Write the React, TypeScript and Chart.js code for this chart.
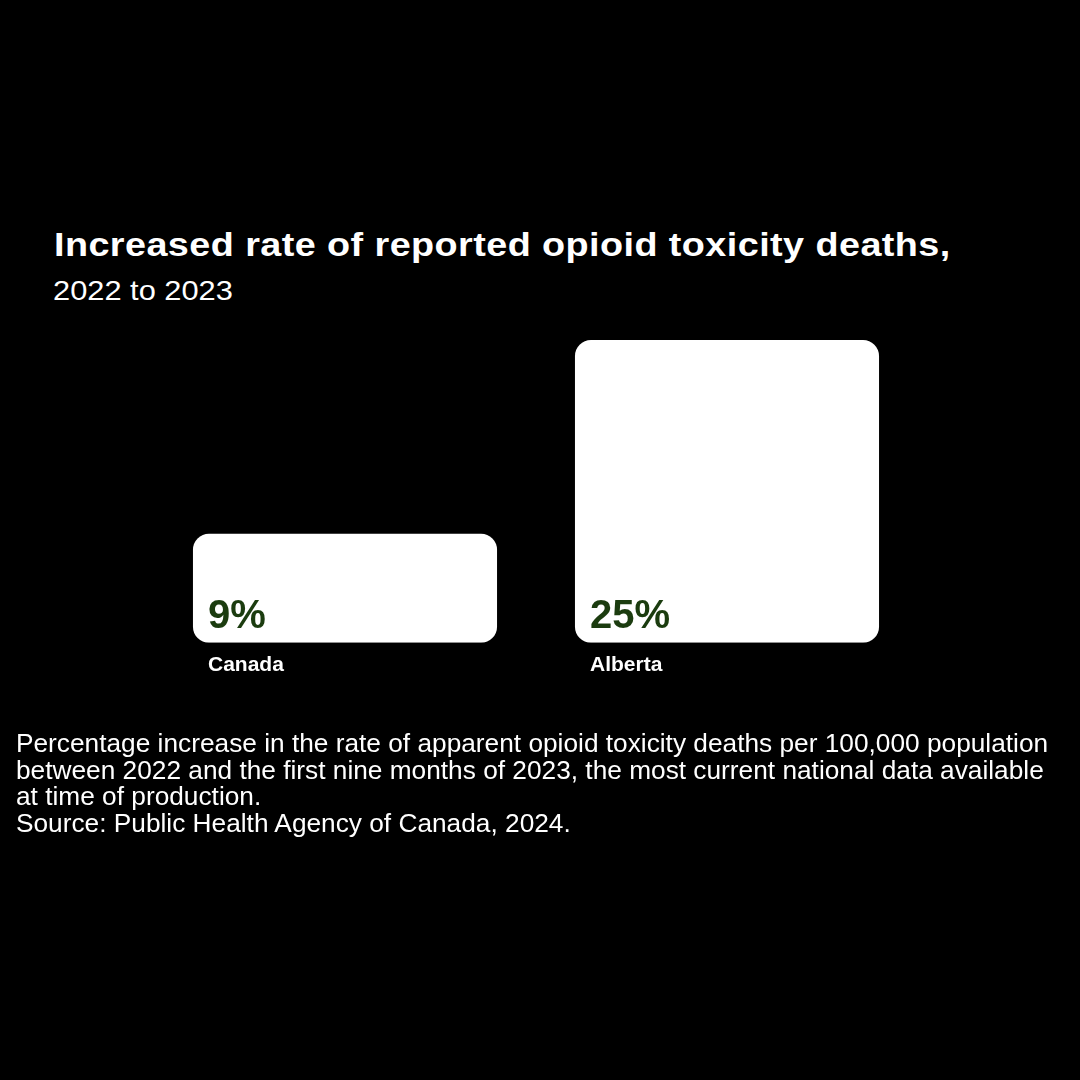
import React, { useEffect, useRef } from "react";
import { Chart, registerables } from "chart.js";

Chart.register(...registerables);

const categories: string[] = ["Canada", "Alberta"];
const increasePct: number[] = [9, 25];
const yTicks: number[] = [0, 25];

const titleText = "Increased rate of reported opioid toxicity deaths,";
const subtitleText = "2022 to 2023";
const noteLines: string[] = [
  "Percentage increase in the rate of apparent opioid toxicity deaths per 100,000 population",
  "between 2022 and the first nine months of 2023, the most current national data available",
  "at time of production.",
  "Source: Public Health Agency of Canada, 2024.",
];

const FONT = '"Liberation Sans", Arial, Helvetica, sans-serif';

const valueLabelPlugin = {
  id: "valueLabels",
  afterDatasetsDraw(chart: any) {
    const ctx = chart.ctx;
    const meta = chart.getDatasetMeta(0);
    ctx.save();
    ctx.fillStyle = "#1b3c0f";
    ctx.font = `bold 40px ${FONT}`;
    ctx.textAlign = "left";
    ctx.textBaseline = "alphabetic";
    meta.data.forEach((bar: any, i: number) => {
      const props = bar.getProps(["x", "base", "width"], true);
      const v = chart.data.datasets[0].data[i];
      ctx.fillText(`${v}%`, props.x - props.width / 2 + 15, props.base - 15);
    });
    ctx.restore();
  },
};

export default function App() {
  const canvasRef = useRef<HTMLCanvasElement | null>(null);

  useEffect(() => {
    if (!canvasRef.current) return;
    const chart = new Chart(canvasRef.current, {
      type: "bar",
      data: {
        labels: categories,
        datasets: [
          {
            data: increasePct,
            backgroundColor: "#ffffff",
            borderWidth: 0,
            borderRadius: 16,
            borderSkipped: false,
            categoryPercentage: 1,
            barPercentage: 0.796,
          },
        ],
      },
      options: {
        responsive: false,
        animation: false,
        events: [],
        layout: { padding: { left: 154, right: 162, top: 340, bottom: 392 } },
        plugins: {
          legend: { display: false },
          tooltip: { enabled: false },
          title: { display: false },
        },
        scales: {
          x: {
            display: true,
            grid: { display: false, drawTicks: false },
            border: { display: false },
            ticks: {
              color: "#ffffff",
              font: { family: FONT, size: 21, weight: "bold" },
              align: "start",
              labelOffset: -137,
              padding: 10,
            },
          },
          y: {
            display: false,
            min: yTicks[0],
            max: yTicks[yTicks.length - 1],
          },
        },
      },
      plugins: [valueLabelPlugin],
    });
    return () => chart.destroy();
  }, []);

  return (
    <div
      style={{
        position: "fixed",
        left: 0,
        top: 0,
        width: 1080,
        height: 1080,
        background: "#000000",
        overflow: "hidden",
        fontFamily: FONT,
        color: "#ffffff",
      }}
    >
      <div
        style={{
          position: "absolute",
          left: 54,
          top: 224,
          fontSize: 34,
          fontWeight: "bold",
          lineHeight: "40px",
          letterSpacing: "0.4px",
          whiteSpace: "nowrap",
          transform: "scaleX(1.11)",
          transformOrigin: "left top",
        }}
      >
        {titleText}
      </div>
      <div
        style={{
          position: "absolute",
          left: 53,
          top: 274,
          fontSize: 28,
          lineHeight: "34px",
          whiteSpace: "nowrap",
          transform: "scaleX(1.1)",
          transformOrigin: "left top",
        }}
      >
        {subtitleText}
      </div>
      <canvas
        ref={canvasRef}
        width={1080}
        height={1080}
        style={{ position: "absolute", left: 0, top: 0, width: 1080, height: 1080 }}
      />
      <div
        style={{
          position: "absolute",
          left: 16,
          top: 730,
          fontSize: 26,
          lineHeight: "26.7px",
          whiteSpace: "nowrap",
          transform: "scaleX(1.01)",
          transformOrigin: "left top",
        }}
      >
        {noteLines.map((l, i) => (
          <div key={i}>{l}</div>
        ))}
      </div>
    </div>
  );
}
